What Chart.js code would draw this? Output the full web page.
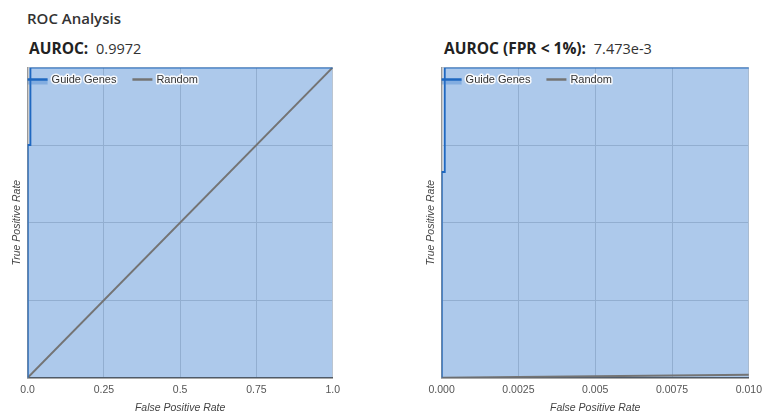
<!DOCTYPE html>
<html>
<head>
<meta charset="utf-8">
<script src="https://cdn.jsdelivr.net/npm/chart.js@4.4.0/dist/chart.umd.min.js"></script>
<style>
  html, body { margin: 0; padding: 0; width: 762px; height: 414px; overflow: hidden; background: #fff; }
  .h { position: absolute; font-family: "Open Sans", sans-serif; color: #333; white-space: nowrap; }
  #title { left: 27px; top: 8px; font-size: 15px; font-weight: 600; }
  .auc { top: 37px; font-size: 14.5px; }
  .auc b { font-size: 15.5px; font-weight: 700; color: #222; margin-right: 4px; }
  #auc1 { left: 29px; }
  #auc2 { left: 444px; }
  .cw { position: absolute; top: 60px; }
  #w1 { left: 6px; }
  #w2 { left: 419.5px; }
</style>
</head>
<body>
<div id="title" class="h">ROC Analysis</div>
<div id="auc1" class="h auc"><b>AUROC:</b> 0.9972</div>
<div id="auc2" class="h auc"><b>AUROC (FPR &lt; 1%):</b> 7.473e-3</div>
<div id="w1" class="cw"><canvas id="c1" width="340" height="356"></canvas></div>
<div id="w2" class="cw"><canvas id="c2" width="348" height="356"></canvas></div>
<script>
// ---- data ----
const seriesNames = ["Guide Genes", "Random"];
const fprFull = [0, 0, 0.009, 0.009, 1];
const tprFull = [0, 0.75, 0.75, 1, 1];
const randFullX = [0, 1];
const randFullY = [0, 1];
const fullTickValues = [0, 0.25, 0.5, 0.75, 1];
const fullTickLabels = ["0.0", "0.25", "0.5", "0.75", "1.0"];

const fprZoom = [0, 0, 0.0001, 0.0001, 0.01];
const tprZoom = [0, 0.663, 0.663, 1, 1];
const randZoomX = [0, 0.01];
const randZoomY = [0, 0.01];
const zoomTickValues = [0, 0.0025, 0.005, 0.0075, 0.01];
const zoomTickLabels = ["0.000", "0.0025", "0.005", "0.0075", "0.010"];

const yTickValues = [0, 0.25, 0.5, 0.75, 1];

const pts = (xs, ys) => xs.map((x, i) => ({ x: x, y: ys[i] }));

const haloLegend = {
  id: 'haloLegend',
  afterDatasetsDraw(chart) {
    const ctx = chart.ctx, ca = chart.chartArea;
    ctx.save();
    ctx.font = '11px Arial, "Liberation Sans", sans-serif';
    ctx.textBaseline = 'middle';
    let x = ca.left;
    const y = ca.top + 12;
    chart.data.datasets.forEach((ds) => {
      if (ds.fill) {
        ctx.fillStyle = 'rgba(51,119,204,0.35)';
        ctx.fillRect(x, y, 20, 5);
      }
      ctx.strokeStyle = ds.borderColor;
      ctx.lineWidth = 2.5;
      ctx.beginPath(); ctx.moveTo(x, y); ctx.lineTo(x + 20, y); ctx.stroke();
      x += 24;
      ctx.lineJoin = 'round';
      ctx.strokeStyle = 'rgba(255,255,255,0.9)';
      ctx.lineWidth = 3;
      ctx.strokeText(ds.label, x, y);
      ctx.fillStyle = '#333';
      ctx.fillText(ds.label, x, y);
      x += ctx.measureText(ds.label).width + 16;
    });
    ctx.restore();
  }
};

function makeChart(id, gx, gy, rx, ry, xmax, tickVals, tickLabels) {
  const font = { family: 'Arial, "Liberation Sans", sans-serif', size: 10.5 };
  return new Chart(document.getElementById(id), {
    type: 'line',
    data: {
      datasets: [
        { label: seriesNames[0], data: pts(gx, gy), borderColor: '#1f68c0', borderWidth: 2,
          backgroundColor: 'rgba(51,119,204,0.4)', fill: 'origin', pointRadius: 0, tension: 0 },
        { label: seriesNames[1], data: pts(rx, ry), borderColor: '#747474', borderWidth: 2,
          fill: false, pointRadius: 0, tension: 0 }
      ]
    },
    options: {
      responsive: false,
      animation: false,
      layout: { padding: { top: 7.5, left: 0, right: 0, bottom: 0 } },
      plugins: {
        legend: { display: false },
        tooltip: { enabled: false },
        filler: { drawTime: 'beforeDatasetsDraw' }
      },
      scales: {
        x: {
          type: 'linear', min: 0, max: xmax,
          afterBuildTicks: (s) => { s.ticks = tickVals.map(v => ({ value: v })); },
          ticks: { font: font, color: '#555', padding: 6, maxRotation: 0, autoSkip: false,
                   callback: (v) => { const i = tickVals.indexOf(v); return i >= 0 ? tickLabels[i] : ''; } },
          grid: { color: '#d2d2d2', drawTicks: false },
          border: { color: '#555', width: 1.5 },
          title: { display: true, text: 'False Positive Rate', color: '#444',
                   font: { family: font.family, size: 10.5, style: 'italic' }, padding: { top: -1, bottom: 2 } }
        },
        y: {
          type: 'linear', min: 0, max: 1,
          afterBuildTicks: (s) => { s.ticks = yTickValues.map(v => ({ value: v })); },
          ticks: { display: false },
          grid: { color: '#d2d2d2', drawTicks: false },
          border: { color: '#999', width: 1.5 },
          title: { display: true, text: 'True Positive Rate', color: '#444',
                   font: { family: font.family, size: 10.5, style: 'italic' }, padding: { top: 5, bottom: 4 } }
        }
      }
    },
    plugins: [haloLegend]
  });
}

makeChart('c1', fprFull, tprFull, randFullX, randFullY, 1, fullTickValues, fullTickLabels);
makeChart('c2', fprZoom, tprZoom, randZoomX, randZoomY, 0.01, zoomTickValues, zoomTickLabels);
</script>
</body>
</html>
